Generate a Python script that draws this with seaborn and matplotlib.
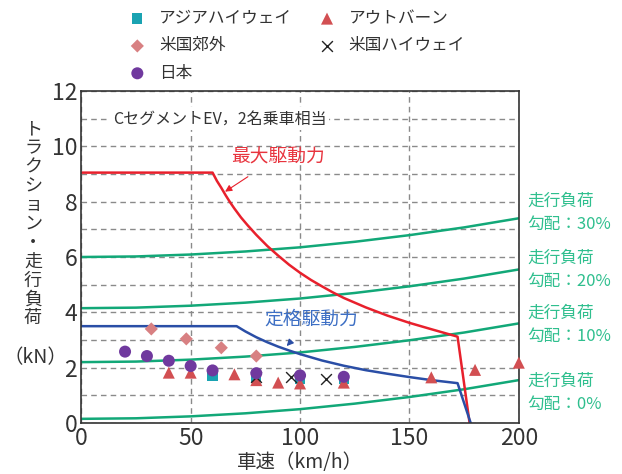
import matplotlib
matplotlib.use("Agg")
import matplotlib.pyplot as plt
import pandas as pd
import seaborn as sns

# Drive force characteristics (speed km/h, force kN)
max_speed = [0, 60, 62, 64, 66, 68, 70, 73, 76, 80, 85, 90, 95, 100, 105, 110, 115,
             120, 130, 140, 150, 160, 172, 177.5]
max_force = [9.05, 9.05, 8.75, 8.50, 8.23, 7.98, 7.75, 7.43, 7.15, 6.80, 6.40, 6.05,
             5.72, 5.43, 5.17, 4.94, 4.72, 4.52, 4.18, 3.88, 3.62, 3.39, 3.12, 0.0]
rated_speed = [0, 71, 75, 80, 85, 90, 95, 100, 110, 120, 130, 140, 150, 160, 172, 178]
rated_force = [3.5, 3.5, 3.31, 3.10, 2.92, 2.76, 2.62, 2.49, 2.26, 2.07, 1.91, 1.78,
               1.66, 1.55, 1.44, 0.0]

# Running resistance by road gradient
load_speed = [0, 25, 50, 75, 100, 125, 150, 175, 200]
load_grade0 = [0.15, 0.17, 0.24, 0.35, 0.50, 0.70, 0.94, 1.22, 1.55]
load_grade10 = [2.20, 2.22, 2.29, 2.40, 2.55, 2.75, 2.99, 3.27, 3.60]
load_grade20 = [4.15, 4.17, 4.24, 4.35, 4.50, 4.70, 4.94, 5.22, 5.55]
load_grade30 = [6.00, 6.02, 6.09, 6.20, 6.35, 6.55, 6.79, 7.07, 7.40]
grade_labels = ["走行負荷\n勾配：0%", "走行負荷\n勾配：10%", "走行負荷\n勾配：20%", "走行負荷\n勾配：30%"]

# Measured driving-cycle operating points
asia_x = [60, 80, 100, 120]
asia_y = [1.70, 1.65, 1.58, 1.58]
autobahn_x = [40, 50, 70, 80, 90, 100, 120, 160, 180, 200]
autobahn_y = [1.82, 1.82, 1.76, 1.55, 1.46, 1.43, 1.46, 1.65, 1.92, 2.18]
us_suburb_x = [32, 48, 64, 80]
us_suburb_y = [3.40, 3.04, 2.72, 2.42]
us_hwy_x = [80, 96, 112]
us_hwy_y = [1.68, 1.67, 1.59]
japan_x = [20, 30, 40, 50, 60, 80, 100, 120]
japan_y = [2.58, 2.42, 2.25, 2.06, 1.90, 1.80, 1.72, 1.67]

x_ticks = [0, 50, 100, 150, 200]
y_ticks = list(range(0, 13))

sns.set_theme(style="white")
plt.rcParams["font.family"] = ["Noto Sans CJK JP", "DejaVu Sans"]

GREEN = "#12a878"
GREEN_TXT = "#2fbf8e"
RED = "#e8202c"
BLUE = "#2a4ea6"
INK = "#333333"

fig = plt.figure(figsize=(6.22, 4.74), dpi=100)
ax = fig.add_axes([0.1307, 0.1076, 0.7034, 0.7004])

ax.set_xlim(0, 200)
ax.set_ylim(0, 12)
ax.set_xticks(x_ticks)
ax.set_yticks(y_ticks)
ax.set_yticklabels([str(v) if v % 2 == 0 else "" for v in y_ticks])
ax.tick_params(length=0, labelsize=16.5, colors=INK, pad=3)
ax.grid(True, color="#8a8a8a", linestyle=(0, (4, 3)), linewidth=1.0)
ax.set_axisbelow(True)
for s in ax.spines.values():
    s.set_color(INK)
    s.set_linewidth(1.2)

# Road load curves, labelled beside the right spine
label_pos = [1.10, 3.54, 5.53, 7.59]
for ys, lab, ly in zip([load_grade0, load_grade10, load_grade20, load_grade30],
                       grade_labels, label_pos):
    df = pd.DataFrame({"v": load_speed, "f": ys})
    sns.lineplot(data=df, x="v", y="f", ax=ax, color=GREEN, lw=1.8, sort=False)
    ax.annotate(lab, xy=(1.0, ly), xycoords=("axes fraction", "data"),
                xytext=(6, 0), textcoords="offset points",
                ha="left", va="center", fontsize=12, color=GREEN_TXT,
                linespacing=1.5, annotation_clip=False)

# Drive force curves
sns.lineplot(data=pd.DataFrame({"v": max_speed, "f": max_force}), x="v", y="f",
             ax=ax, color=RED, lw=1.8, sort=False)
sns.lineplot(data=pd.DataFrame({"v": rated_speed, "f": rated_force}), x="v", y="f",
             ax=ax, color=BLUE, lw=1.8, sort=False)

ax.annotate("最大駆動力", xy=(65.7, 8.36), xytext=(90, 9.62),
            ha="center", va="center", fontsize=13.5, color="#e8343e",
            arrowprops=dict(arrowstyle="-|>", color=RED, lw=0.8,
                            mutation_scale=10, shrinkA=8, shrinkB=0))
ax.annotate("定格駆動力", xy=(93.9, 2.78), xytext=(105, 3.75),
            ha="center", va="center", fontsize=13.5, color="#3d6fc4",
            arrowprops=dict(arrowstyle="-|>", color=BLUE, lw=0.8,
                            mutation_scale=10, shrinkA=8, shrinkB=0))

ax.text(14.5, 11, "CセグメントEV，2名乗車相当", ha="left", va="center",
        fontsize=11.5, color=INK,
        bbox=dict(facecolor="white", edgecolor="none", pad=2))

# Operating points
sns.scatterplot(x=asia_x, y=asia_y, ax=ax, marker="s", s=55, color="#1aa3b2",
                edgecolor="none", label="アジアハイウェイ", zorder=4, clip_on=False)
sns.scatterplot(x=autobahn_x, y=autobahn_y, ax=ax, marker="^", s=75, color="#d24f52",
                edgecolor="none", label="アウトバーン", zorder=5, clip_on=False)
sns.scatterplot(x=us_suburb_x, y=us_suburb_y, ax=ax, marker="D", s=45, color="#d88082",
                edgecolor="none", label="米国郊外", zorder=5, clip_on=False)
sns.scatterplot(x=us_hwy_x, y=us_hwy_y, ax=ax, marker="x", s=60, color="#222222",
                linewidth=1.0, label="米国ハイウェイ", zorder=5, clip_on=False)
sns.scatterplot(x=japan_x, y=japan_y, ax=ax, marker="o", s=75, color="#70399e",
                edgecolor="none", label="日本", zorder=6, clip_on=False)

handles, labels = ax.get_legend_handles_labels()
order = ["アジアハイウェイ", "米国郊外", "日本", "アウトバーン", "米国ハイウェイ"]
hmap = dict(zip(labels, handles))
ax.get_legend().remove()
fig.legend([hmap[k] for k in order], order, ncol=2, loc="upper left",
           bbox_to_anchor=(129 / 622, 1 - 10 / 474), frameon=False, fontsize=12,
           handlelength=1.0, handletextpad=0.8, columnspacing=1.6,
           labelspacing=0.62, borderpad=0, borderaxespad=0,
           labelcolor=INK)

ax.set_xlabel("車速（km/h）", fontsize=14, color=INK, labelpad=1)
ax.set_ylabel("")
fig.text(33 / 622, 1 - 224 / 474, "\n".join("トラクション・走行負荷"),
         ha="center", va="center", fontsize=13, color=INK, linespacing=1.06)
fig.text(35 / 622, 1 - 358 / 474, "（kN）", ha="center", va="center",
         fontsize=14, color=INK)

fig.savefig("out.png", dpi=100)
